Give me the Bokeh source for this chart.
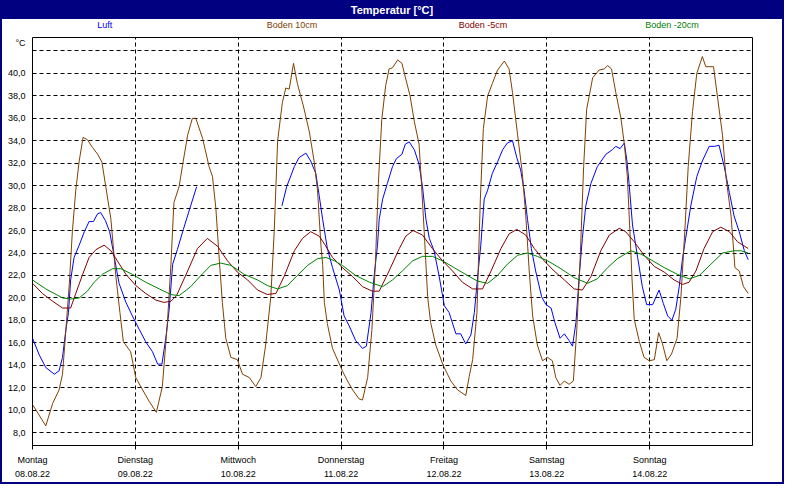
from bokeh.plotting import figure
from bokeh.models import Range1d, FixedTicker, LinearAxis, Grid, Div
from bokeh.layouts import column
from bokeh.embed import file_html
from bokeh.resources import INLINE

nan = float("nan")

# hours since Monday 08.08.22 00:00
luft_h = [0, 1.6, 3.1, 5.1, 6.2, 7, 7.8, 8.4, 8.9, 9.7, 10.9, 12.1, 13.2, 14.2, 15.2, 15.9, 17, 18, 19.1,
          20.2, 21.8, 23.3, 24.9, 26.4, 28, 29.2, 30.2, 31.1, 31.9, 32.7, 33.8, 35.2, 36.9, 38.3, 48,
          58.2, 59.3, 61.1, 62.2, 63.8, 64.9, 66.1, 66.9, 67.7, 68.8, 70, 71.6, 72.7, 73.9, 75.4, 77, 77.9,
          79, 79.7, 80.5, 80.9, 81.7, 82.8, 84, 84.9, 86.2, 87, 87.9, 89.1, 90.2, 91, 91.8, 92.6, 93.7,
          94.9, 96.1, 97.2, 98.8, 99.9, 101.1, 102.3, 103.1, 103.8, 104.6, 105.4, 106.2, 107.3, 108.5,
          109.7, 110.8, 112, 113, 113.9, 114.7, 115.5, 116.4, 117.4, 118.8, 119.8, 121, 121.9, 123.1,
          124.1, 125.2, 126, 126.8, 127.6, 128.3, 129.1, 130.3, 131.8, 133.8, 135.3, 136.1, 137.1, 138.1,
          138.7, 139.2, 140, 141.2, 142.3, 143.3, 144.7, 146.2, 147.2, 148.2, 149.2, 150.1, 150.9, 151.7,
          152.4, 153.6, 155, 156.3, 157.9, 159.1, 160.2, 161.4, 162.6, 163.7, 164.9, 166.1, 167]
luft_t = [16.4, 14.9, 13.8, 13.2, 13.5, 14.7, 17.2, 18.7, 21.6, 23.6, 24.7, 25.9, 26.8, 26.8, 27.5, 27.6, 26.9, 25.9, 23.6,
          21.3, 19.6, 18.4, 17.2, 16.1, 15.2, 14.1, 14.1, 16.4, 19.0, 23.0, 24.3, 26.1, 28.2, 29.9, nan,
          28.2, 29.9, 31.7, 32.5, 32.9, 32.2, 31.1, 29.1, 27.0, 24.4, 22.7, 20.7, 18.4, 17.5, 16.2, 15.5, 15.7,
          18.7, 21.9, 24.7, 27.0, 28.8, 30.2, 31.7, 32.4, 32.8, 33.7, 33.9, 33.2, 31.9, 29.9, 27.0, 25.3, 24.2,
          21.9, 19.3, 18.7, 16.8, 16.8, 15.9, 16.7, 18.7, 21.6, 24.7, 28.8, 29.6, 31.1, 32.1,
          33.2, 33.8, 34.0, 32.5, 31.4, 29.6, 27.0, 24.4, 22.4, 20.1, 19.4, 19.1, 17.8, 16.4,
          16.8, 16.2, 15.7, 17.8, 22.1, 25.3, 28.2, 30.2, 31.7, 32.8, 33.2, 33.5, 33.3, 33.8,
          32.2, 30.2, 26.5, 23.6, 21.0, 19.4, 19.4, 20.7, 19.5, 18.4, 18.0, 19.0, 21.0, 23.6,
          25.3, 28.2, 30.8, 32.2, 33.5, 33.5, 33.6, 31.7, 29.4, 27.3, 25.9, 24.2, 23.4]

boden10_h = [0, 3.1, 4.7, 6.2, 7, 7.8, 8.6, 9.3, 10.1, 10.9, 11.8, 12.8, 14, 15.2, 16.2, 17.1, 18.3, 19.4, 20.4,
             21.2, 22.9, 24.1, 25.7, 27.2, 28.9, 30.3, 31.5, 32.3, 33, 34.2, 35, 36.2, 37.3, 38.1, 39.7, 41.2,
             42, 42.8, 43.6, 44.3, 45.1, 46.3, 47.8, 49, 50.6, 52.1, 53.3, 54.4, 55.6, 56.4, 57.2, 58.3, 59.1,
             59.9, 60.9, 61.8, 63.2, 64.6, 65.7, 66.5, 67.3, 67.7, 68.1, 68.8, 70, 72.3, 73.5, 74.7, 76.2, 77,
             78.2, 79.2, 80, 80.7, 81.5, 82.4, 83.2, 84, 85.2, 86.2, 87.1, 88.1, 89.1, 90.2, 90.8, 91.4, 92.2,
             92.9, 94.1, 95.7, 97.6, 99.2, 101.1, 101.9, 102.7, 103.7, 104.5, 105.2, 106.2, 107.3, 108.5,
             110.1, 111.2, 112, 113.2, 114.3, 115.1, 115.9, 116.7, 117.8, 119, 120.2, 121.3, 122.1, 123.1,
             124.1, 125.2, 126.2, 127, 127.8, 128.6, 129.3, 130.7, 132.2, 133.4, 134.2, 135.1, 136.1, 137.3,
             138.1, 138.8, 139.4, 139.9, 140.4, 141.6, 142.7, 143.9, 145.1, 146.1, 147, 148, 149.1, 150.4,
             151.3, 152.2, 153, 154, 155, 156.3, 157.1, 158.9, 159.8, 161, 161.8, 163, 163.9, 164.9, 165.9, 167]
boden10_t = [10.5, 8.6, 10.6, 11.8, 13.2, 17.2, 21.3, 25.9, 29.6, 32.2, 34.3, 34.1, 33.4, 32.8, 32.1, 29.9, 27.0, 22.1, 18.7,
             16.1, 15.2, 12.9, 11.8, 10.8, 9.8, 12.1, 17.9, 23.0, 28.5, 29.9, 31.8, 34.5, 36.0, 36.0, 34.2, 31.7,
             30.8, 27.9, 23.3, 19.6, 16.4, 14.7, 14.5, 13.2, 12.9, 12.1, 12.9, 15.8, 20.1, 25.9, 34.0, 37.4, 38.7,
             38.6, 40.9, 39.1, 37.1, 34.8, 32.2, 29.6, 24.7, 23.0, 19.6, 17.7, 15.5, 13.5, 12.6, 11.8, 11.0, 10.9,
             12.9, 17.2, 23.0, 30.2, 35.9, 38.9, 40.4, 40.5, 41.2, 40.9, 39.5, 38.0, 35.7, 33.7, 29.9, 25.9, 20.1,
             17.8, 15.8, 14.1, 12.6, 11.8, 11.3, 13.0, 14.5, 18.7, 28.8, 35.1, 38.0, 39.1, 40.3,
             41.1, 40.4, 38.3, 34.5, 31.1, 27.3, 22.4, 18.4, 15.8, 14.4, 14.7, 14.4, 12.9, 12.2,
             12.6, 12.3, 12.6, 17.2, 23.6, 31.7, 36.8, 39.6, 40.3, 40.4, 40.7, 40.4, 38.3, 36.0,
             33.7, 30.8, 25.9, 21.6, 18.1, 16.1, 14.7, 14.4, 14.5, 16.9, 15.9, 14.4, 15.0, 16.4,
             20.1, 25.9, 31.7, 36.6, 40.0, 41.5, 40.6, 40.6, 38.0, 34.5, 30.8, 27.3, 22.7, 22.4, 21.0, 20.4]

boden5_h = [0, 2.3, 4.7, 7, 8.9, 10.1, 11.7, 13.2, 14.8, 16.7, 18.3, 19.8, 21.8, 24.1, 26.4, 28.8, 30.7, 32.3,
            33.6, 36.2, 38.5, 40.8, 43.2, 45.5, 47.8, 50.2, 52.5, 54.8, 56.8, 58.7, 61.1, 63, 64.9, 66.9, 68.3,
            70, 72.3, 74.7, 77, 79.3, 80.9, 83.2, 85.6, 87.1, 88.8, 91, 93.3, 95.7, 98, 100.3, 102.7, 105, 107,
            109.3, 111.2, 113, 115.1, 117.1, 119.4, 121.7, 124.1, 126.4, 128.3, 130.3, 132.6, 134.6, 136.9,
            138.4, 140.4, 142.7, 145.1, 147.4, 149.7, 151.7, 153.2, 154.8, 156.7, 158.7, 160.6, 162.6, 164.5, 167]
boden5_t = [21.3, 20.4, 19.7, 19.1, 19.1, 20.4, 22.1, 23.6, 24.3, 24.7, 24.2, 23.3, 22.1, 21.1, 20.4, 19.8, 19.6, 19.7,
            20.2, 22.4, 24.4, 25.3, 24.6, 23.3, 22.3, 21.6, 20.7, 20.3, 20.4, 21.9, 24.2, 25.3, 25.9, 25.5, 24.7,
            23.6, 22.7, 21.9, 21.0, 20.6, 20.6, 22.4, 24.4, 25.5, 26.0, 25.6, 24.4, 23.3, 22.4, 21.4, 20.8, 20.8, 22.4,
            24.4, 25.7, 26.1, 25.6, 24.4, 23.3, 22.4, 21.6, 20.8, 20.7, 21.9, 24.2, 25.6, 26.2,
            25.9, 25.0, 23.8, 22.8, 22.3, 21.6, 21.2, 21.4, 22.4, 24.4, 25.9, 26.3, 25.9, 25.0, 24.4]

boden20_h = [0, 3.1, 7, 8.9, 10.9, 12.8, 14.4, 16.3, 18.7, 20.6, 23.3, 26.4, 29.6, 32.3, 34.2, 36.9, 39.3, 41.6,
             43.9, 46.3, 49.4, 52.5, 54.8, 57.2, 59.5, 61.8, 64.2, 66.5, 68.5, 70.5, 72.3, 75.4, 78.6, 81.7, 84,
             86.3, 88.7, 91, 93.3, 95.7, 98.8, 101.5, 103.8, 106.2, 108.5, 110.8, 113.2, 115.5, 117.8, 120.2,
             123.3, 126.4, 129.5, 131.8, 134.2, 136.5, 139.6, 142, 144.3, 147.4, 150.5, 153.2, 155.6, 158.3,
             161, 163.7, 165.3, 167]
boden20_t = [21.6, 20.8, 20.0, 19.9, 20.0, 20.6, 21.4, 22.1, 22.6, 22.6, 22.1, 21.4, 20.8, 20.3, 20.2, 21.0, 22.0, 22.9,
             23.1, 22.9, 22.1, 21.6, 21.1, 20.8, 21.1, 22.0, 22.9, 23.5, 23.6, 23.3, 22.9, 22.0, 21.4, 21.0, 21.6,
             22.4, 23.3, 23.7, 23.7, 23.3, 22.6, 22.0, 21.5, 21.3, 22.0, 23.0, 23.8, 24.0, 23.7, 23.3,
             22.6, 21.8, 21.3, 21.7, 22.7, 23.5, 24.2, 23.9, 23.4, 22.7, 22.1, 21.7, 22.0, 23.0,
             24.0, 24.2, 24.2, 24.0]

day_ticks = [0, 24, 48, 72, 96, 120, 144]
day_names = ["Montag", "Dienstag", "Mittwoch", "Donnerstag", "Freitag", "Samstag", "Sonntag"]
day_dates = ["08.08.22", "09.08.22", "10.08.22", "11.08.22", "12.08.22", "13.08.22", "14.08.22"]
y_ticks = [8, 10, 12, 14, 16, 18, 20, 22, 24, 26, 28, 30, 32, 34, 36, 38, 40, 42]
y_labeled = [8, 10, 12, 14, 16, 18, 20, 22, 24, 26, 28, 30, 32, 34, 36, 38, 40]
unit_text = "°C"
title_text = "Temperatur [°C]"

series_names = ["Luft", "Boden 10cm", "Boden -5cm", "Boden -20cm"]
series_colors = ["#0000ff", "#804000", "#800000", "#008000"]

FONT = "Liberation Sans"
NAVY = "#000080"
IW = 780          # inner width (inside 2px border)
HEAD_H = 32
FIG_H = 448
UNIT_POS = 42.75  # screen position of the unit label on the y axis

# ---------- header (title bar + coloured series names) ----------
legend_x = [102.7, 290, 481, 670]
spans = "".join(
    f'<span style="position:absolute;left:{lx}px;top:18px;transform:translateX(-50%);'
    f'white-space:nowrap;color:{c};font-size:9px;line-height:10px;">{n}</span>'
    for n, c, lx in zip(series_names, series_colors, legend_x))
header_html = (
    f'<div style="position:relative;width:{IW}px;height:{HEAD_H}px;font-family:\'{FONT}\';background:white;">'
    f'<div style="position:absolute;left:0;top:0;width:{IW}px;height:17px;background:{NAVY};color:white;'
    f'font-weight:bold;font-size:11px;line-height:17px;text-align:center;">{title_text}</div>'
    f'{spans}</div>')
header = Div(text=header_html, width=IW, height=HEAD_H, margin=(0, 0, 0, 0))

# ---------- chart ----------
p = figure(width=IW, height=FIG_H, x_range=Range1d(0, 168), y_range=Range1d(6.85, 43.2),
           x_axis_type=None, y_axis_type=None, output_backend="svg", toolbar_location=None,
           title_location=None, min_border_left=30, min_border_right=30, min_border_top=3,
           min_border_bottom=37, background_fill_color="white", border_fill_color="white",
           outline_line_color="black", outline_line_width=1, margin=(0, 0, 0, 0))

p.add_layout(Grid(dimension=0, ticker=FixedTicker(ticks=day_ticks[1:]), grid_line_color="black",
                  grid_line_dash="4 3", grid_line_width=1))
p.add_layout(Grid(dimension=1, ticker=FixedTicker(ticks=y_ticks), grid_line_color="black",
                  grid_line_dash="4 3", grid_line_width=1))

y_overrides = {v: f"{v:.1f}".replace(".", ",") for v in y_labeled}
y_overrides[UNIT_POS] = unit_text
yax = LinearAxis(ticker=FixedTicker(ticks=y_labeled + [UNIT_POS]),
                 major_label_overrides=y_overrides,
                 major_tick_out=0, major_tick_in=0, minor_tick_out=0, minor_tick_in=0,
                 axis_line_color=None, major_label_standoff=7,
                 major_label_text_font=FONT, major_label_text_font_size="9px", major_label_text_color="black")
p.add_layout(yax, "left")

xax1 = LinearAxis(ticker=FixedTicker(ticks=day_ticks),
                  major_label_overrides=dict(zip(day_ticks, day_names)),
                  major_tick_out=4, major_tick_in=0, minor_tick_out=0, minor_tick_in=0,
                  major_tick_line_color="black", axis_line_color="black", major_label_standoff=5,
                  major_label_text_font=FONT, major_label_text_font_size="9px", major_label_text_color="black")
p.add_layout(xax1, "below")
xax2 = LinearAxis(ticker=FixedTicker(ticks=day_ticks),
                  major_label_overrides=dict(zip(day_ticks, day_dates)),
                  major_tick_out=0, major_tick_in=0, minor_tick_out=0, minor_tick_in=0,
                  major_tick_line_color=None, axis_line_color=None, major_label_standoff=3,
                  major_label_text_font=FONT, major_label_text_font_size="9px", major_label_text_color="black")
p.add_layout(xax2, "below")

for hs, ts, c in [(luft_h, luft_t, series_colors[0]), (boden10_h, boden10_t, series_colors[1]),
                  (boden5_h, boden5_t, series_colors[2]), (boden20_h, boden20_t, series_colors[3])]:
    p.line(hs, ts, line_color=c, line_width=1)

layout = column(header, p, spacing=0, margin=(0, 0, 0, 0),
                styles={"border": f"2px solid {NAVY}", "background-color": "white"})

open("out.html", "w").write(file_html(layout, INLINE))
